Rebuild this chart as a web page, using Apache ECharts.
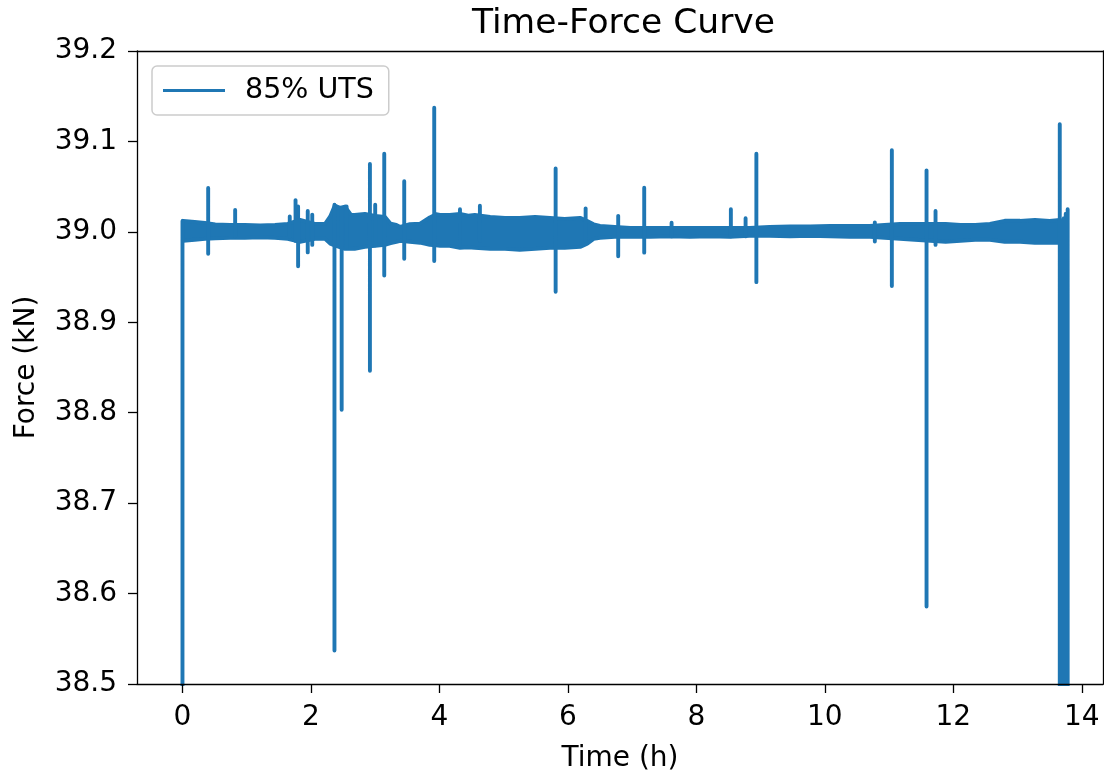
<!DOCTYPE html>
<html><head><meta charset="utf-8">
<script src="https://cdn.jsdelivr.net/npm/echarts@6/dist/echarts.min.js"></script>
<style>html,body{margin:0;padding:0;background:#fff}#c{width:1104px;height:774px}</style>
</head><body><div id="c"></div>
<script>
// Noise band envelope (time in h, force in kN)
const bandTime = [0.01,0.19,0.35,0.51,0.74,0.97,1.21,1.44,1.64,1.83,2.06,2.22,2.30,2.37,2.45,2.53,2.62,2.68,2.84,3.00,3.15,3.24,3.33,3.39,3.54,3.70,3.85,3.95,4.01,4.16,4.32,4.45,4.55,4.79,5.02,5.25,5.49,5.72,5.95,6.19,6.30,6.40,6.50,6.73,6.97,7.28,7.59,7.90,8.21,8.52,8.83,9.14,9.46,9.77,10.08,10.39,10.70,10.93,11.17,11.40,11.64,11.88,12.11,12.34,12.57,12.80,13.04,13.27,13.50,13.66];
const bandHigh = [39.0122,39.0110,39.0099,39.0083,39.0077,39.0077,39.0072,39.0077,39.0088,39.0133,39.0088,39.0088,39.0170,39.0290,39.0265,39.0280,39.0190,39.0188,39.0199,39.0177,39.0166,39.0090,39.0077,39.0055,39.0085,39.0090,39.0160,39.0195,39.0188,39.0188,39.0199,39.0180,39.0188,39.0166,39.0155,39.0155,39.0166,39.0155,39.0144,39.0155,39.0120,39.0083,39.0066,39.0055,39.0044,39.0044,39.0044,39.0044,39.0044,39.0044,39.0044,39.0055,39.0061,39.0061,39.0066,39.0066,39.0066,39.0077,39.0088,39.0088,39.0088,39.0088,39.0077,39.0077,39.0088,39.0122,39.0122,39.0133,39.0122,39.0133];
const bandLow = [38.9901,38.9912,38.9923,38.9928,38.9934,38.9934,38.9939,38.9934,38.9923,38.9890,38.9923,38.9923,38.9870,38.9850,38.9830,38.9812,38.9815,38.9812,38.9834,38.9845,38.9856,38.9875,38.9890,38.9901,38.9890,38.9880,38.9856,38.9850,38.9845,38.9845,38.9823,38.9830,38.9823,38.9812,38.9812,38.9801,38.9812,38.9823,38.9823,38.9834,38.9870,38.9923,38.9934,38.9945,38.9945,38.9945,38.9950,38.9945,38.9950,38.9945,38.9956,38.9956,38.9950,38.9956,38.9950,38.9945,38.9945,38.9934,38.9923,38.9912,38.9901,38.9890,38.9901,38.9912,38.9912,38.9890,38.9890,38.9878,38.9878,38.9878];
// Spikes: time, lowest force, highest force
const spikeTime = [0.00,0.40,0.82,1.67,1.76,1.80,1.95,2.02,2.366,2.478,2.555,2.918,3.00,3.141,3.452,3.919,4.32,4.63,5.809,6.276,6.783,7.188,7.614,8.537,8.766,8.934,10.778,11.043,11.583,11.723,13.657,13.69,13.72,13.75,13.78];
const spikeLow  = [38.45,38.9757,38.995,38.995,38.990,38.9619,38.9773,38.9856,38.537,38.8033,38.982,38.8464,38.985,38.9517,38.9702,38.9677,38.985,38.990,38.9337,38.990,38.973,38.977,38.995,38.995,38.995,38.9444,38.9893,38.940,38.5856,38.9856,38.45,38.45,38.45,38.45,38.45];
const spikeHigh = [39.012,39.0486,39.0243,39.017,39.0351,39.028,39.0232,39.0191,39.030,39.025,39.028,39.075,39.030,39.0865,39.056,39.1373,39.025,39.029,39.070,39.026,39.0177,39.0489,39.010,39.025,39.015,39.0865,39.0105,39.0903,39.068,39.0232,39.119,39.012,39.015,39.020,39.025];
const xTicks = [0,2,4,6,8,10,12,14];
const seriesName = '85% UTS';

const C = '#1f77b4';
const FONT = 'DejaVu Sans';
const LW = 3.9;
const highData = bandTime.map((t,i)=>[t, bandHigh[i]]);
const lowData = bandTime.map((t,i)=>[t, bandLow[i]]);
const spikeData = [];
spikeTime.forEach((t,i)=>{ spikeData.push([t, spikeLow[i]],[t, spikeHigh[i]],[t,'-']); });

const chart = echarts.init(document.getElementById('c'), null, {renderer:'canvas'});
const lineBase = {type:'line', symbol:'none', showSymbol:false, animation:false, color:C,
  itemStyle:{color:C},
  lineStyle:{color:C, width:LW, cap:'round', join:'round'}};
const spine = {show:true, onZero:false, lineStyle:{color:'#000', width:1.3}};
chart.setOption({
  animation:false,
  backgroundColor:'#fff',
  title:{text:'Time-Force Curve', left:472, top:7, padding:0,
    textStyle:{fontFamily:FONT, fontSize:34.5, fontWeight:'normal', color:'#000'}},
  legend:{data:[seriesName], left:152, top:66, orient:'vertical',
    icon:'rect', itemWidth:62, itemHeight:3.2,
    padding:[10,15,10,11], backgroundColor:'#fff', borderColor:'#cccccc', borderWidth:1.5, borderRadius:5,
    textStyle:{fontFamily:FONT, fontSize:28.5, color:'#000', padding:[0,0,0,15]}},
  grid:{left:137, right:1, top:51, bottom:90, show:false, containLabel:false, outerBoundsMode:'none'},
  xAxis:[{type:'value', z:10, min:-0.708, max:14.33, name:'Time (h)', nameLocation:'middle', nameGap:61,
    nameTextStyle:{fontFamily:FONT, fontSize:28, color:'#000'},
    axisLine:spine,
    axisTick:{show:true, length:9, lineStyle:{color:'#000', width:1.3}, customValues:xTicks},
    axisLabel:{fontFamily:FONT, fontSize:28, color:'#000', margin:20, customValues:xTicks},
    splitLine:{show:false}},
    {type:'value', position:'top', z:10, min:-0.708, max:14.33, axisLine:spine,
     axisTick:{show:false}, axisLabel:{show:false}, splitLine:{show:false}}],
  yAxis:[{type:'value', z:10, min:38.5, max:39.2, interval:0.1, name:'Force (kN)', nameLocation:'middle', nameGap:96,
    nameTextStyle:{fontFamily:FONT, fontSize:28, color:'#000'},
    axisLine:spine,
    axisTick:{show:true, length:9, lineStyle:{color:'#000', width:1.3}},
    axisLabel:{fontFamily:FONT, fontSize:28, color:'#000', margin:20, formatter:v=>v.toFixed(1)},
    splitLine:{show:false}},
    {type:'value', position:'right', z:10, min:38.5, max:39.2, interval:0.1, axisLine:spine,
     axisTick:{show:false}, axisLabel:{show:false}, splitLine:{show:false}}],
  series:[
    Object.assign({}, lineBase, {name:seriesName, z:2, data:highData, areaStyle:{color:C, opacity:1, origin:'start'}}),
    Object.assign({}, lineBase, {name:'bandLower', z:3, data:lowData, areaStyle:{color:'#ffffff', opacity:1, origin:'start'}}),
    Object.assign({}, lineBase, {name:'spikes', z:4, data:spikeData, connectNulls:false})
  ]
});
</script></body></html>
